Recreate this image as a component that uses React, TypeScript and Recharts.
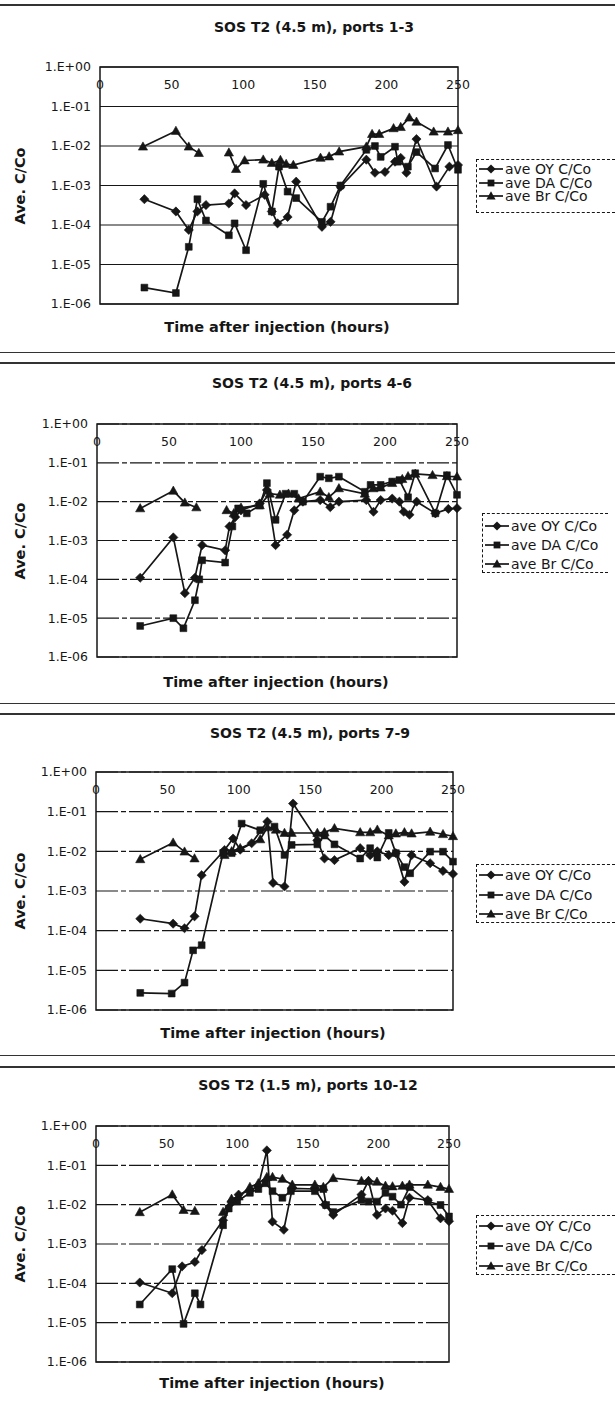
import { LineChart, Line, XAxis, YAxis, CartesianGrid, ReferenceArea } from 'recharts';

type Pt = [number, number | null];

const hourTicks = [0, 50, 100, 150, 200, 250];
const concTicks = [1, 1e-1, 1e-2, 1e-3, 1e-4, 1e-5, 1e-6];
const seriesNames = ['ave OY C/Co', 'ave DA C/Co', 'ave Br C/Co'];
const panelTitles = [
  'SOS T2 (4.5 m), ports 1-3',
  'SOS T2 (4.5 m), ports 4-6',
  'SOS T2 (4.5 m), ports 7-9',
  'SOS T2 (1.5 m), ports 10-12',
];

// ports 1-3
const oy1: Pt[] = [[31, 4.5e-4], [53, 2.2e-4], [62, 7.5e-5], [68, 2.2e-4], [74, 3.2e-4], [90, 3.5e-4], [94, 6.3e-4], [102, 3.2e-4], [115, 5.8e-4], [120, 2.2e-4], [124, 1.1e-4], [131, 1.6e-4], [137, 1.25e-3], [155, 9e-5], [161, 1.2e-4], [168, 9.3e-4], [186, 4.5e-3], [192, 2.1e-3], [199, 2.2e-3], [206, 4e-3], [210, 5e-3], [214, 2.1e-3], [221, 1.5e-2], [235, 9.4e-4], [244, 3e-3], [250, 3.3e-3]];
const da1: Pt[] = [[31, 2.6e-6], [53, 1.9e-6], [62, 2.8e-5], [68, 4.5e-4], [74, 1.3e-4], [90, 5.5e-5], [94, 1.1e-4], [102, 2.3e-5], [114, 1.1e-3], [120, 2.2e-4], [125, 3e-3], [131, 7e-4], [137, 4.8e-4], [155, 1.2e-4], [161, 2.9e-4], [168, 1e-3], [186, 8e-3], [192, 1e-2], [196, 5.3e-3], [206, 9.6e-3], [208, 4e-3], [215, 3e-3], [221, 7e-3], [234, 2.7e-3], [243, 1.06e-2], [250, 2.5e-3]];
const br1: Pt[] = [[30, 9.6e-3], [53, 2.4e-2], [62, 9.6e-3], [69, 6.6e-3], [80, null], [90, 6.8e-3], [95, 2.6e-3], [101, 4.3e-3], [114, 4.5e-3], [120, 3.7e-3], [126, 4.4e-3], [130, 3.5e-3], [135, 3.3e-3], [154, 5e-3], [160, 5.4e-3], [167, 7.2e-3], [186, 9.6e-3], [190, 2e-2], [195, 2e-2], [205, 2.8e-2], [210, 3e-2], [216, 5.2e-2], [221, 4.1e-2], [233, 2.3e-2], [243, 2.3e-2], [250, 2.5e-2]];

// ports 4-6
const oy2: Pt[] = [[30, 1.1e-4], [53, 1.2e-3], [61, 4.4e-5], [68, 1.1e-4], [73, 7.6e-4], [89, 5.6e-4], [92, 2.3e-3], [96, 4e-3], [100, 6e-3], [113, 9e-3], [118, 2e-2], [124, 7.6e-4], [132, 1.4e-3], [137, 6e-3], [143, 1e-2], [155, 1.1e-2], [162, 7.2e-3], [168, 1e-2], [187, 1.1e-2], [192, 5.5e-3], [197, 1.1e-2], [205, 1.2e-2], [210, 1e-2], [213, 5.5e-3], [217, 4.6e-3], [222, 1e-2], [235, 5e-3], [244, 6.5e-3], [250, 6.8e-3]];
const da2: Pt[] = [[30, 6.3e-6], [53, 1e-5], [60, 5.5e-6], [68, 2.9e-5], [71, 1e-4], [73, 3.1e-4], [89, 2.7e-4], [94, 2.3e-3], [98, 6.7e-3], [104, 5e-3], [113, 8e-3], [118, 3e-2], [124, 3.4e-3], [131, 1.6e-2], [137, 1.6e-2], [143, 1e-2], [155, 4.4e-2], [161, 4e-2], [168, 4.4e-2], [186, 1.8e-2], [190, 2.7e-2], [197, 2.7e-2], [205, 3.3e-2], [210, 3.6e-2], [216, 1.3e-2], [221, 5.4e-2], [235, 5e-3], [243, 4.8e-2], [250, 1.5e-2]];
const br2: Pt[] = [[30, 6.7e-3], [53, 1.9e-2], [61, 9.4e-3], [69, 7.1e-3], [80, null], [90, 6e-3], [95, 5e-3], [100, 7e-3], [113, 8e-3], [120, 1.6e-2], [127, 1.5e-2], [133, 1.6e-2], [140, 1.2e-2], [155, 1.8e-2], [161, 1.3e-2], [168, 2.2e-2], [186, 1.6e-2], [192, 2.2e-2], [197, 2.3e-2], [205, 3e-2], [212, 3.8e-2], [216, 4.5e-2], [221, 5.2e-2], [233, 4.8e-2], [243, 4.5e-2], [250, 4.4e-2]];

// ports 7-9
const oy3: Pt[] = [[31, 2e-4], [54, 1.5e-4], [62, 1.15e-4], [69, 2.3e-4], [74, 2.5e-3], [90, 1.08e-2], [96, 2.1e-2], [101, 1.1e-2], [109, 1.6e-2], [120, 5.6e-2], [124, 1.6e-3], [132, 1.3e-3], [138, 1.6e-1], [155, 1.9e-2], [160, 6.6e-3], [167, 6e-3], [185, 1.2e-2], [192, 8e-3], [197, 1e-2], [205, 8e-3], [210, 9e-3], [216, 1.7e-3], [221, 8e-3], [234, 5e-3], [243, 3.2e-3], [250, 2.7e-3]];
const da3: Pt[] = [[31, 2.7e-6], [53, 2.6e-6], [62, 4.9e-6], [68, 3.2e-5], [74, 4.3e-5], [89, 9e-3], [95, 9e-3], [102, 5e-2], [115, 3.4e-2], [125, 4.2e-2], [132, 8.1e-3], [137, 1.45e-2], [155, 1.5e-2], [160, 2.5e-2], [167, 1.5e-2], [185, 6.6e-3], [192, 1.2e-2], [197, 7e-3], [205, 2.9e-2], [210, 9e-3], [216, 4e-3], [220, 2.8e-3], [234, 9.8e-3], [243, 9.8e-3], [250, 5.5e-3]];
const br3: Pt[] = [[31, 6.3e-3], [54, 1.65e-2], [62, 9.8e-3], [69, 6.6e-3], [80, null], [90, 8e-3], [95, 1e-2], [101, 1.2e-2], [115, 2e-2], [120, 4e-2], [126, 3.5e-2], [132, 2.9e-2], [137, 2.9e-2], [155, 2.9e-2], [160, 3e-2], [167, 3.8e-2], [185, 3e-2], [192, 3e-2], [197, 3.5e-2], [205, 2.5e-2], [210, 2.8e-2], [216, 3e-2], [221, 2.8e-2], [234, 3.1e-2], [243, 2.7e-2], [250, 2.4e-2]];

// ports 10-12
const oy4: Pt[] = [[31, 1.05e-4], [54, 5.6e-5], [61, 2.7e-4], [70, 3.5e-4], [75, 7e-4], [90, 4e-3], [96, 1.2e-2], [101, 1.8e-2], [109, 2.3e-2], [115, 3e-2], [121, 2.4e-1], [125, 3.7e-3], [133, 2.3e-3], [139, 2.6e-2], [155, 2.5e-2], [162, 1e-2], [168, 5.5e-3], [188, 1.8e-2], [193, 4e-2], [199, 5.5e-3], [205, 8e-3], [210, 7e-3], [217, 3.4e-3], [222, 1.5e-2], [235, 1.3e-2], [244, 4.5e-3], [250, 3.8e-3]];
const da4: Pt[] = [[31, 2.9e-5], [54, 2.3e-4], [62, 9.3e-6], [70, 5.6e-5], [74, 2.9e-5], [90, 3e-3], [94, 8e-3], [100, 1.2e-2], [109, 2e-2], [115, 2.5e-2], [120, 3.5e-2], [125, 2.2e-2], [132, 1.5e-2], [138, 2.2e-2], [155, 2.2e-2], [161, 2.5e-2], [163, 9.8e-3], [168, 6.5e-3], [188, 1.3e-2], [193, 1.2e-2], [199, 1.2e-2], [205, 2e-2], [210, 1.6e-2], [216, 1e-2], [222, 2.8e-2], [235, 1.2e-2], [244, 9.8e-3], [250, 5e-3]];
const br4: Pt[] = [[31, 6.4e-3], [54, 1.8e-2], [62, 7.3e-3], [70, 6.9e-3], [80, null], [90, 6.5e-3], [96, 1.4e-2], [101, 1.6e-2], [109, 2.8e-2], [115, 3.5e-2], [121, 5e-2], [125, 5e-2], [132, 4.5e-2], [139, 3.2e-2], [155, 3.2e-2], [161, 2.8e-2], [168, 4.7e-2], [188, 4e-2], [193, 4e-2], [199, 3.8e-2], [205, 3e-2], [210, 2.9e-2], [217, 3e-2], [222, 3.2e-2], [235, 3.2e-2], [244, 2.8e-2], [250, 2.5e-2]];

const FONT = '"DejaVu Sans", sans-serif';
const INK = '#161616';

// page boxes
const panels = [
  { series: [oy1, da1, br1], top: 67, bottom: 304, left: 100, right: 458, titleX: 314, titleY: 27, xtX: 277, xtY: 327, lg: { x: 476, y: 159, w: 139, h: 54, row0: 9, gap: 13.5 }, dash: undefined },
  { series: [oy2, da2, br2], top: 424, bottom: 657, left: 97, right: 457, titleX: 312, titleY: 383, xtX: 276, xtY: 682, lg: { x: 482, y: 513, w: 126, h: 60, row0: 12, gap: 19 }, dash: '22 3 5 3' },
  { series: [oy3, da3, br3], top: 772, bottom: 1010, left: 96, right: 453, titleX: 310, titleY: 733, xtX: 273, xtY: 1033, lg: { x: 476, y: 864, w: 139, h: 59, row0: 10, gap: 19.5 }, dash: '22 3 5 3' },
  { series: [oy4, da4, br4], top: 1126, bottom: 1362, left: 96, right: 449, titleX: 308, titleY: 1085, xtX: 272, xtY: 1383, lg: { x: 476, y: 1215, w: 139, h: 60, row0: 10, gap: 20 }, dash: '22 3 5 3' },
];

const separators = [4, 352, 362, 703, 713, 1055, 1066];

const fmtExp = (v: number) => {
  const e = Math.round(Math.log10(v));
  return `1.E${e >= 0 ? '+' : '-'}${String(Math.abs(e)).padStart(2, '0')}`;
};

const toRows = (pts: Pt[]) => pts.map(([h, v]) => ({ h, v }));

function markerPath(kind: number, cx: number, cy: number) {
  if (kind === 0) return `M${cx},${cy - 4.6}L${cx + 4.6},${cy}L${cx},${cy + 4.6}L${cx - 4.6},${cy}Z`;
  if (kind === 1) return `M${cx - 3.4},${cy - 3.4}h6.8v6.8h-6.8Z`;
  return `M${cx},${cy - 4.8}L${cx + 4.6},${cy + 3.4}L${cx - 4.6},${cy + 3.4}Z`;
}

const makeDot = (kind: number) => (p: any) => {
  const k = `d-${p.index}`;
  if (p.value == null || p.cy == null || Number.isNaN(p.cy)) return <g key={k} />;
  return <path key={k} d={markerPath(kind, p.cx, p.cy)} fill={INK} stroke={INK} strokeWidth={0.6} />;
};

function Panel({ cfg, title }: { cfg: (typeof panels)[number]; title: string }) {
  const chartH = cfg.bottom - cfg.top + 40;
  const plotMid = (cfg.top + cfg.bottom) / 2;
  return (
    <>
      <div style={{ position: 'absolute', left: cfg.titleX, top: cfg.titleY, transform: 'translate(-50%, -50%)', whiteSpace: 'nowrap', fontWeight: 'bold', fontSize: 14, color: INK }}>
        {title}
      </div>
      <div style={{ position: 'absolute', left: 20, top: plotMid, transform: 'translate(-50%, -50%) rotate(-90deg)', whiteSpace: 'nowrap', fontWeight: 'bold', fontSize: 14.5, color: INK }}>
        Ave. C/Co
      </div>
      <div style={{ position: 'absolute', left: cfg.xtX, top: cfg.xtY, transform: 'translate(-50%, -50%)', whiteSpace: 'nowrap', fontWeight: 'bold', fontSize: 14.5, color: INK }}>
        Time after injection (hours)
      </div>

      <div style={{ position: 'absolute', left: 0, top: cfg.top - 20 }}>
        <LineChart width={615} height={chartH} margin={{ top: 0, right: 615 - cfg.right, bottom: 20, left: cfg.left - 60 }}>
          <CartesianGrid vertical={false} stroke={INK} strokeWidth={1.2} strokeDasharray={cfg.dash} />
          <XAxis
            type="number"
            dataKey="h"
            orientation="top"
            height={20}
            domain={[0, 250]}
            ticks={hourTicks}
            axisLine={false}
            tickLine={false}
            allowDuplicatedCategory={false}
            tick={(p: any) => (
              <text key={`t-${p.index}`} x={p.x} y={20 + 17.5} textAnchor="middle" dominantBaseline="central" fontSize={12.5} fontFamily={FONT} fill={INK}>
                {p.payload.value}
              </text>
            )}
          />
          <YAxis
            type="number"
            scale="log"
            domain={[1e-6, 1]}
            allowDataOverflow
            ticks={concTicks}
            width={60}
            axisLine={false}
            tickLine={false}
            tickMargin={3}
            tickFormatter={fmtExp}
            tick={{ fontSize: 12.5, fontFamily: FONT, fill: INK }}
          />
          <ReferenceArea x1={0} x2={250} y1={1e-6} y2={1} fill="none" stroke={INK} strokeWidth={1.5} ifOverflow="visible" />
          {cfg.series.map((pts, i) => (
            <Line
              key={seriesNames[i]}
              name={seriesNames[i]}
              data={toRows(pts)}
              dataKey="v"
              type="linear"
              stroke={INK}
              strokeWidth={1.7}
              connectNulls={false}
              dot={makeDot(i)}
              activeDot={false}
              isAnimationActive={false}
            />
          ))}
        </LineChart>
      </div>

      <div style={{ position: 'absolute', left: cfg.lg.x, top: cfg.lg.y, width: cfg.lg.w, height: cfg.lg.h, boxSizing: 'border-box', border: `1px dashed ${INK}`, borderRight: 'none' }}>
        {seriesNames.map((name, i) => (
          <div key={name} style={{ position: 'absolute', left: 1, top: cfg.lg.row0 + i * cfg.lg.gap, transform: 'translateY(-50%)', display: 'flex', alignItems: 'center', whiteSpace: 'nowrap' }}>
            <svg width={26} height={12}>
              <line x1={1} y1={6} x2={25} y2={6} stroke={INK} strokeWidth={1.7} />
              <path d={markerPath(i, 13, 6)} fill={INK} />
            </svg>
            <span style={{ fontSize: 14, color: INK, marginLeft: 1 }}>{name}</span>
          </div>
        ))}
      </div>
    </>
  );
}

export default function App() {
  return (
    <div style={{ position: 'absolute', left: 0, top: 0, width: 615, height: 1402, background: '#fff', fontFamily: FONT, overflow: 'hidden' }}>
      {separators.map((y, i) => (
        <div key={y} style={{ position: 'absolute', left: 0, top: y, width: 615, height: 0, borderTop: `${i % 2 === 0 ? 2 : 1}px solid #333` }} />
      ))}
      {panels.map((cfg, i) => (
        <Panel key={panelTitles[i]} cfg={cfg} title={panelTitles[i]} />
      ))}
    </div>
  );
}
